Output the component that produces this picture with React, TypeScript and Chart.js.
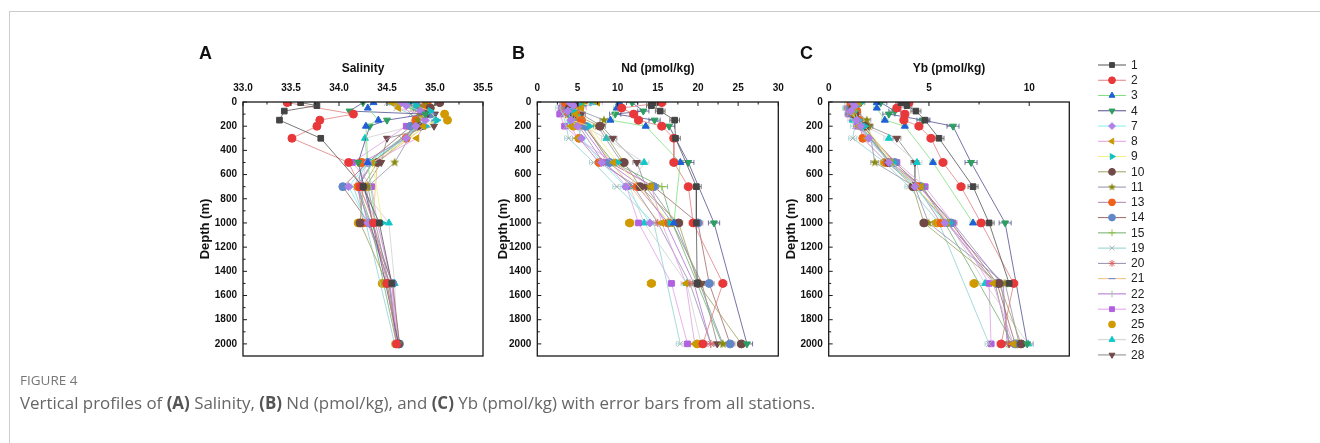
import React, { useEffect, useRef } from 'react';
import { Chart, registerables } from 'chart.js';
import { drawPoint } from 'chart.js/helpers';

Chart.register(...registerables);

// ---------------- DATA ----------------
const STATIONS = ['1', '2', '3', '4', '7', '8', '9', '10', '11', '13', '14', '15', '19', '20', '21', '22', '23', '25', '26', '28'];
const DEPTHS = [5, 30, 50, 75, 100, 150, 200, 300, 500, 700, 1000, 1500, 2000];

const N = null;
const SALINITY: (number | null)[][] = [
  [33.60, 33.77, N, 33.43, N, 33.38, N, 33.81, N, 34.25, 34.42, 34.55, N],
  [33.46, N, N, N, 34.15, 33.80, 33.77, 33.51, 34.10, 34.22, 34.36, 34.50, 34.60],
  [34.36, N, 34.30, N, N, 34.41, 34.28, N, 34.30, N, 34.38, N, N],
  [34.25, N, N, 34.11, 34.90, 34.50, 34.32, N, 34.20, N, 34.35, N, 34.62],
  [34.65, 34.70, N, 34.85, N, 34.90, 34.80, 34.70, 34.30, 34.10, 34.30, N, N],
  [34.55, N, 34.62, N, 34.85, N, 34.88, 34.81, 34.35, 34.20, 34.40, 34.55, 34.60],
  [34.72, 34.80, N, 34.95, N, 35.02, 34.90, N, 34.35, N, 34.45, N, N],
  [35.05, N, 34.95, N, 34.90, N, 34.85, N, 34.40, 34.25, 34.22, 34.50, 34.62],
  [34.90, N, 34.85, N, N, 34.82, 34.80, N, 34.58, 34.30, 34.38, 34.52, 34.60],
  [34.92, 34.90, N, 34.88, N, 34.80, N, 34.70, 34.24, 34.20, 34.25, N, N],
  [34.80, N, 34.85, N, 34.95, N, 34.75, N, 34.30, 34.04, 34.31, 34.56, 34.63],
  [34.60, N, 34.75, N, 34.85, N, 34.80, N, 34.35, 34.20, 34.33, N, 34.60],
  [34.50, N, 34.60, N, 34.75, N, 34.80, 34.65, 34.30, 34.15, 34.28, N, 34.58],
  [34.70, N, 34.80, N, 34.92, N, 34.85, N, 34.35, 34.18, 34.32, 34.52, 34.61],
  [34.75, N, 34.85, N, 34.98, 35.00, 34.90, N, 34.40, N, 34.35, N, N],
  [34.68, N, 34.78, N, 34.90, N, 34.82, N, 34.35, 34.20, 34.30, 34.53, 34.61],
  [34.75, N, 34.85, N, 34.95, N, 34.70, N, 34.14, 34.34, 34.40, 34.55, 34.62],
  [34.60, N, 34.95, N, 35.10, 35.13, 34.75, N, 34.22, 34.30, 34.20, 34.45, 34.59],
  [34.55, N, 34.80, N, 34.95, 35.00, N, 34.27, 34.29, 34.22, 34.52, 34.58, 34.60],
  [35.04, N, 34.92, N, 35.00, N, 34.99, 34.50, 34.44, 34.28, 34.35, 34.55, 34.63],
];

const ND: (number | null)[][] = [
  [14.4, 14.2, N, 15.3, N, 17.1, N, 17.2, N, 19.8, 19.8, 19.9, N],
  [15.5, N, 10.5, N, 12.0, 12.6, 15.5, 17.0, 17.0, 18.8, 19.4, 23.1, 20.6],
  [10.2, N, 9.9, N, N, 9.1, 13.5, N, 17.8, N, 17.0, N, N],
  [11.8, N, N, 13.2, 9.7, 14.6, 16.4, N, 18.8, N, 22.0, N, 26.1],
  [4.0, 4.5, N, 3.8, N, 4.2, 5.0, 5.5, 8.0, 11.0, 14.0, N, N],
  [7.5, N, 5.5, N, 4.8, N, 4.2, 5.0, 9.5, 14.2, 15.5, 18.5, 19.6],
  [6.8, 5.5, N, 4.5, N, 4.2, 6.5, N, 10.0, N, 16.5, N, N],
  [5.0, N, 4.0, N, 4.5, N, 7.8, N, 10.8, 12.8, 17.6, 20.0, 25.4],
  [5.5, N, 4.5, N, N, 8.3, 7.5, N, 10.5, 14.0, 17.2, 20.2, 23.1],
  [3.5, 4.0, N, 4.8, N, 5.5, N, 5.2, 7.7, 12.5, 16.3, N, N],
  [4.5, N, 3.8, N, 4.2, N, 6.0, N, 9.0, 14.5, 20.0, 21.4, 24.0],
  [4.2, N, 3.5, N, 4.0, N, 5.8, N, 9.5, 15.5, 16.8, N, 23.0],
  [3.0, N, 2.8, N, 3.2, N, 3.6, 3.9, 7.0, 9.9, 14.5, N, 17.8],
  [3.8, N, 3.2, N, 3.5, N, 5.2, N, 8.2, 12.0, 15.0, 19.0, 21.6],
  [4.8, N, 4.0, N, 3.5, 4.5, 6.2, N, 9.2, N, 15.2, N, N],
  [4.3, N, 3.6, N, 4.0, N, 5.5, N, 8.8, 13.0, 16.0, 19.5, 21.6],
  [3.2, N, 3.0, N, 2.8, N, 3.4, N, 8.5, 11.1, 12.6, 16.7, 18.7],
  [5.5, N, 4.8, N, 4.0, 4.5, 4.5, N, 10.5, 14.3, 11.5, 14.2, 19.9],
  [7.0, N, 4.5, N, 5.0, 4.2, N, 8.6, 13.3, 11.5, 13.3, 18.6, 20.4],
  [6.0, N, 5.0, N, 5.5, N, 8.0, 9.4, 12.4, 13.5, 16.8, 20.5, 22.4],
];

const YB: (number | null)[][] = [
  [3.6, 3.9, N, 4.35, N, 4.8, N, 5.5, N, 7.2, 8.0, 9.0, N],
  [4.0, N, 3.4, N, 3.8, 3.75, 4.5, 5.1, 5.7, 6.6, 7.6, 9.23, 8.6],
  [2.4, N, 2.4, N, N, 2.8, 3.8, N, 5.2, N, 7.2, N, N],
  [2.6, N, N, 3.3, 3.0, 4.7, 6.2, N, 7.1, N, 8.8, N, 9.9],
  [1.2, 1.3, N, 1.1, N, 1.4, 1.6, 2.0, 3.0, 4.3, 5.8, N, N],
  [1.5, N, 1.3, N, 1.2, N, 1.5, 1.9, 3.1, 4.6, 5.9, 8.2, 9.2],
  [1.6, 1.4, N, 1.3, N, 1.5, 1.8, N, 3.2, N, 6.0, N, N],
  [1.4, N, 1.2, N, 1.3, N, 1.8, N, 3.0, 4.2, 4.75, 8.5, 9.6],
  [1.3, N, 1.2, N, N, 1.9, 2.0, N, 2.3, 4.3, 4.98, 8.8, 9.5],
  [1.1, 1.2, N, 1.4, N, 1.5, N, 1.7, 2.9, 4.4, 5.6, N, N],
  [1.3, N, 1.1, N, 1.2, N, 1.7, N, 3.3, 4.6, 6.1, 8.4, 9.3],
  [1.2, N, 1.0, N, 1.1, N, 1.6, N, 3.1, 4.7, 5.8, N, 9.2],
  [1.0, N, 0.9, N, 1.0, N, 1.3, 1.2, 2.8, 4.0, 5.5, N, 8.0],
  [1.2, N, 1.0, N, 1.1, N, 1.6, N, 3.0, 4.5, 6.2, 8.6, 9.0],
  [1.3, N, 1.1, N, 1.0, 1.2, 1.7, N, 3.2, N, 6.0, N, N],
  [1.2, N, 1.0, N, 1.1, N, 1.5, N, 3.1, 4.6, 5.9, 8.7, 8.9],
  [1.1, N, 1.0, N, 1.0, N, 1.4, N, 3.4, 4.8, 6.2, 8.0, 8.1],
  [1.4, N, 1.2, N, 1.2, 1.5, 1.6, N, 2.8, 4.5, 5.4, 7.25, 9.4],
  [1.5, N, 1.3, N, 1.3, 1.2, N, 3.0, 4.4, 4.6, 6.0, 7.8, 9.95],
  [1.6, N, 1.3, N, 1.4, N, 2.0, 3.4, 4.3, 4.3, 5.9, 8.3, 9.0],
];

const ND_ERR = [0.6, 0.5, 0.4, 0.7, 0.4, 0.6, 0.4, 0.5, 0.5, 0.4, 0.6, 0.7, 0.5, 0.5, 0.4, 0.5, 0.4, 0.5, 0.6, 0.5];
const YB_ERR = [0.25, 0.2, 0.15, 0.3, 0.15, 0.2, 0.15, 0.2, 0.2, 0.15, 0.2, 0.25, 0.2, 0.2, 0.15, 0.2, 0.15, 0.2, 0.25, 0.2];

const DEPTH_TICKS = [0, 200, 400, 600, 800, 1000, 1200, 1400, 1600, 1800, 2000];
const SAL_TICKS = [33.0, 33.5, 34.0, 34.5, 35.0, 35.5];
const ND_TICKS = [0, 5, 10, 15, 20, 25, 30];
const YB_TICKS = [0, 5, 10];

// ---------------- STYLES ----------------
const MARKER_COLORS = ['#444444', '#e8383a', '#1f5fd8', '#2e9e60', '#b080e8', '#c89a00', '#10c0c0', '#704848', '#8a8a10', '#f06018', '#6088c8', '#90c040', '#b0b0b0', '#e06060', '#6080e0', '#90d090', '#b060e0', '#d09a00', '#10c8c8', '#704848'];
const LINE_COLORS: (string | null)[] = ['#555555', '#e08080', '#80e080', '#505090', '#80eeee', '#e0a0e0', '#f0f080', '#a0a060', '#9090a8', '#b080b0', '#a06868', '#70b070', '#90d0d0', '#9090b0', '#f0c080', '#b070d0', '#e0a0e8', null, '#d0d0d0', '#888888'];
const POINT_STYLES = ['rect', 'circle', 'triangle', 'triangle', 'rectRot', 'triangle', 'triangle', 'circle', 'star5', 'circle', 'circle', 'cross', 'crossRot', 'star', 'line', 'line', 'rect', 'circle', 'triangle', 'triangle'];
const POINT_ROTATIONS = [0, 0, 0, 180, 0, -90, 90, 0, 0, 0, 0, 0, 0, 0, 0, 90, 0, 0, 0, 180];

const FONT = 'Liberation Sans, Arial, sans-serif';

function makeStar(color: string, r: number): HTMLCanvasElement {
  const c = document.createElement('canvas');
  const s = Math.ceil(r * 2 + 2);
  c.width = s; c.height = s;
  const g = c.getContext('2d')!;
  g.fillStyle = color;
  g.beginPath();
  for (let k = 0; k < 10; k++) {
    const rr = k % 2 === 0 ? r : r * 0.42;
    const ang = -Math.PI / 2 + (k * Math.PI) / 5;
    const px = s / 2 + rr * Math.cos(ang);
    const py = s / 2 + rr * Math.sin(ang);
    if (k === 0) g.moveTo(px, py); else g.lineTo(px, py);
  }
  g.closePath();
  g.fill();
  return c;
}

function styleFor(i: number, r: number): any {
  if (POINT_STYLES[i] === 'star5') return makeStar(MARKER_COLORS[i], r * 1.2);
  return POINT_STYLES[i];
}

function buildDatasets(values: (number | null)[][]) {
  return STATIONS.map((st, i) => ({
    label: st,
    data: DEPTHS.flatMap((d, j) => (values[i][j] == null ? [] : [{ x: values[i][j] as number, y: d }])),
    showLine: LINE_COLORS[i] !== null,
    borderColor: LINE_COLORS[i] ?? 'rgba(0,0,0,0)',
    borderWidth: 0.8,
    pointStyle: styleFor(i, 4),
    pointRotation: POINT_ROTATIONS[i],
    pointRadius: 4,
    pointBackgroundColor: MARKER_COLORS[i],
    pointBorderColor: MARKER_COLORS[i],
    pointBorderWidth: 1,
  }));
}

const PLOT_TOP = 102;
const PLOT_BOTTOM = 356;
const X_AXIS_H = 44.7;
const W = 1320;
const H = 443;

type PanelCfg = {
  letter: string;
  letterX: number;
  title: string;
  values: (number | null)[][];
  xTicks: number[];
  xMin: number;
  xMax: number;
  decimals: number;
  left: number;
  right: number;
  yTitleX: number;
  errors: number[] | null;
  legend: boolean;
};

function makeFramePlugin(p: PanelCfg) {
  return {
    id: 'frame' + p.letter,
    beforeDatasetsDraw(chart: any) {
      if (!p.errors) return;
      const { ctx, scales: { x, y } } = chart;
      ctx.save();
      ctx.beginPath();
      const a = chart.chartArea;
      ctx.rect(a.left, a.top, a.right - a.left, a.bottom - a.top);
      ctx.clip();
      chart.data.datasets.forEach((ds: any, i: number) => {
        const err = p.errors![i];
        ctx.strokeStyle = LINE_COLORS[i] ?? MARKER_COLORS[i];
        ctx.lineWidth = 0.8;
        ds.data.forEach((pt: any) => {
          const x1 = x.getPixelForValue(pt.x - err);
          const x2 = x.getPixelForValue(pt.x + err);
          const py = y.getPixelForValue(pt.y);
          ctx.beginPath();
          ctx.moveTo(x1, py); ctx.lineTo(x2, py);
          ctx.moveTo(x1, py - 2.5); ctx.lineTo(x1, py + 2.5);
          ctx.moveTo(x2, py - 2.5); ctx.lineTo(x2, py + 2.5);
          ctx.stroke();
        });
      });
      ctx.restore();
    },
    afterDraw(chart: any) {
      const { ctx, chartArea: a, scales: { x, y } } = chart;
      ctx.save();
      ctx.strokeStyle = '#1a1a1a';
      ctx.lineWidth = 1.3;
      ctx.strokeRect(a.left, a.top, a.right - a.left, a.bottom - a.top);
      ctx.lineWidth = 1;
      ctx.beginPath();
      p.xTicks.forEach((v, k) => {
        const px = x.getPixelForValue(v);
        ctx.moveTo(px, a.top); ctx.lineTo(px, a.top + 4);
        const nextV = k < p.xTicks.length - 1 ? p.xTicks[k + 1] : v + (v - p.xTicks[k - 1]);
        const mv = (v + nextV) / 2;
        if (mv < p.xMax) {
          const mx = x.getPixelForValue(mv);
          ctx.moveTo(mx, a.top); ctx.lineTo(mx, a.top + 2.5);
        }
      });
      DEPTH_TICKS.forEach((v, k) => {
        const py = y.getPixelForValue(v);
        ctx.moveTo(a.left, py); ctx.lineTo(a.left + 4, py);
        if (k < DEPTH_TICKS.length - 1) {
          const my = y.getPixelForValue((v + DEPTH_TICKS[k + 1]) / 2);
          ctx.moveTo(a.left, my); ctx.lineTo(a.left + 2.5, my);
        }
      });
      ctx.stroke();
      ctx.fillStyle = '#111';
      ctx.font = `bold 18px ${FONT}`;
      ctx.textBaseline = 'middle';
      ctx.textAlign = 'left';
      ctx.fillText(p.letter, p.letterX, 54);

      if (p.legend) {
        const x0 = 1098, x1 = 1126, xm = 1112;
        ctx.font = `12px ${FONT}`;
        chart.data.datasets.forEach((ds: any, i: number) => {
          const ly = 65 + i * 15.26;
          if (LINE_COLORS[i]) {
            ctx.strokeStyle = LINE_COLORS[i]!;
            ctx.lineWidth = 1;
            ctx.beginPath();
            ctx.moveTo(x0, ly); ctx.lineTo(x1, ly);
            ctx.stroke();
          }
          ctx.fillStyle = MARKER_COLORS[i];
          ctx.strokeStyle = MARKER_COLORS[i];
          ctx.lineWidth = 1;
          drawPoint(ctx, { pointStyle: styleFor(i, 3.4), rotation: POINT_ROTATIONS[i], radius: 3.4, borderWidth: 1 } as any, xm, ly);
          ctx.fillStyle = '#222';
          ctx.fillText(ds.label, 1131, ly + 0.5);
        });
      }
      ctx.restore();
    },
  };
}

function Panel({ p }: { p: PanelCfg }) {
  const ref = useRef<HTMLCanvasElement>(null);
  useEffect(() => {
    const yBoxLeft = p.yTitleX - 11.8;
    const yAxisW = p.left - yBoxLeft;
    const chart = new Chart(ref.current!, {
      type: 'scatter',
      data: { datasets: buildDatasets(p.values) as any },
      options: {
        responsive: false,
        animation: false,
        devicePixelRatio: 1,
        layout: {
          padding: { left: yBoxLeft, right: W - p.right, top: PLOT_TOP - X_AXIS_H, bottom: H - PLOT_BOTTOM },
        },
        plugins: { legend: { display: false }, tooltip: { enabled: false } },
        scales: {
          x: {
            type: 'linear',
            position: 'top',
            min: p.xMin,
            max: p.xMax,
            afterBuildTicks: (s: any) => { s.ticks = p.xTicks.map((v) => ({ value: v })); },
            afterFit: (s: any) => { s.height = X_AXIS_H; },
            grid: { display: false, drawTicks: false },
            border: { display: false },
            ticks: {
              padding: 8,
              color: '#111',
              font: { family: FONT, size: 10, weight: 'bold' },
              maxRotation: 0,
              callback: (v: any) => Number(v).toFixed(p.decimals),
            },
            title: {
              display: true,
              text: p.title,
              color: '#111',
              font: { family: FONT, size: 12, weight: 'bold' },
              padding: { top: 4, bottom: 4 },
            },
          },
          y: {
            type: 'linear',
            reverse: true,
            min: 0,
            max: 2100,
            afterBuildTicks: (s: any) => { s.ticks = DEPTH_TICKS.map((v) => ({ value: v })); },
            afterFit: (s: any) => { s.width = yAxisW; },
            grid: { display: false, drawTicks: false },
            border: { display: false },
            ticks: {
              padding: 6,
              color: '#111',
              font: { family: FONT, size: 10, weight: 'bold' },
              callback: (v: any) => String(v),
            },
            title: {
              display: true,
              text: 'Depth (m)',
              color: '#111',
              font: { family: FONT, size: 13, weight: 'bold' },
              padding: { top: 4, bottom: 4 },
            },
          },
        },
      },
      plugins: [makeFramePlugin(p)],
    });
    return () => chart.destroy();
  }, []);
  return (
    <canvas
      ref={ref}
      width={W}
      height={H}
      style={{ position: 'absolute', left: 0, top: 0, width: W, height: H }}
    />
  );
}

const PANELS: PanelCfg[] = [
  { letter: 'A', letterX: 199, title: 'Salinity', values: SALINITY, xTicks: SAL_TICKS, xMin: 33, xMax: 35.5, decimals: 1, left: 243, right: 483, yTitleX: 205.5, errors: null, legend: false },
  { letter: 'B', letterX: 512, title: 'Nd (pmol/kg)', values: ND, xTicks: ND_TICKS, xMin: 0, xMax: 30, decimals: 0, left: 537.3, right: 778.3, yTitleX: 503, errors: ND_ERR, legend: false },
  { letter: 'C', letterX: 800, title: 'Yb (pmol/kg)', values: YB, xTicks: YB_TICKS, xMin: 0, xMax: 12, decimals: 0, left: 828.7, right: 1069.3, yTitleX: 791.7, errors: YB_ERR, legend: true },
];

export default function App() {
  return (
    <div style={{ position: 'absolute', left: 0, top: 0, width: W, height: H, background: '#fff', overflow: 'hidden' }}>
      <div style={{ position: 'absolute', left: 9, top: 11, width: W - 9, height: H - 11, borderTop: '1px solid #cccccc', borderLeft: '1px solid #cccccc', boxSizing: 'border-box' }} />
      {PANELS.map((p) => <Panel key={p.letter} p={p} />)}
      <div style={{ position: 'absolute', left: 20, top: 372, fontFamily: '"Open Sans", sans-serif', fontSize: 13.5, color: '#777', whiteSpace: 'nowrap', lineHeight: '16px' }}>FIGURE 4</div>
      <div style={{ position: 'absolute', left: 20, top: 392, fontFamily: '"Open Sans", sans-serif', fontSize: 16.9, color: '#666', whiteSpace: 'nowrap', lineHeight: '21px' }}>
        Vertical profiles of <b style={{ color: '#555' }}>(A)</b> Salinity, <b style={{ color: '#555' }}>(B)</b> Nd (pmol/kg), and <b style={{ color: '#555' }}>(C)</b> Yb (pmol/kg) with error bars from all stations.
      </div>
    </div>
  );
}
